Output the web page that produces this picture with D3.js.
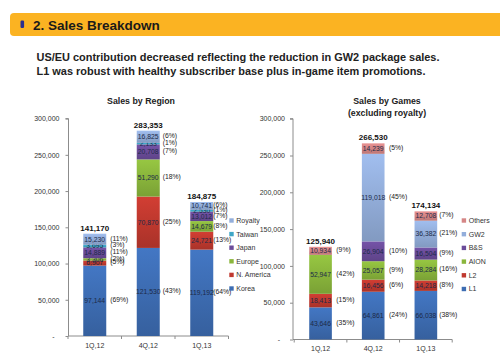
<!DOCTYPE html>
<html><head><meta charset="utf-8">
<script src="https://cdn.jsdelivr.net/npm/d3@7/dist/d3.min.js"></script>
<style>
html,body{margin:0;padding:0;background:#fff;}
svg{display:block;font-family:"Liberation Sans",Arial,sans-serif;}
</style></head>
<body>
<svg id="c" width="500" height="354"></svg>
<script>
// ---------- DATA ----------
const periods = ["1Q,12", "4Q,12", "1Q,13"];

const regionNames = ["Korea", "N. America", "Europe", "Japan", "Taiwan", "Royalty"];
const regionKorea    = [97144, 121530, 119192];
const regionNAmerica = [6907, 70870, 24721];
const regionEurope   = [3306, 51290, 14679];
const regionJapan    = [14889, 20708, 13012];
const regionTaiwan   = [3695, 2133, 2530];
const regionRoyalty  = [15230, 16825, 10741];
const regionPctKorea    = ["(69%)", "(43%)", "(64%)"];
const regionPctNAmerica = ["(5%)", "(25%)", "(13%)"];
const regionPctEurope   = ["(2%)", "(18%)", "(8%)"];
const regionPctJapan    = ["(11%)", "(7%)", "(7%)"];
const regionPctTaiwan   = ["(3%)", "(1%)", "(1%)"];
const regionPctRoyalty  = ["(11%)", "(6%)", "(6%)"];
const regionTotals = [141170, 283353, 184875];

const gameNames = ["L1", "L2", "AION", "B&S", "GW2", "Others"];
const gameL1     = [43646, 64861, 66038];
const gameL2     = [18413, 16456, 14218];
const gameAION   = [52947, 25057, 28284];
const gameBnS    = [0, 26904, 16504];
const gameGW2    = [0, 119018, 36382];
const gameOthers = [10934, 14239, 12708];
const gamePctL1     = ["(35%)", "(24%)", "(38%)"];
const gamePctL2     = ["(15%)", "(6%)", "(8%)"];
const gamePctAION   = ["(42%)", "(9%)", "(16%)"];
const gamePctBnS    = ["", "(10%)", "(9%)"];
const gamePctGW2    = ["", "(45%)", "(21%)"];
const gamePctOthers = ["(9%)", "(5%)", "(7%)"];
const gameTotals = [125940, 266530, 174134];

const yTicks = [0, 50000, 100000, 150000, 200000, 250000, 300000];

// ---------- STYLE ----------
const regionColors = ["#3d6db3", "#c0392f", "#8ab63c", "#6b4c9a", "#3ea6c6", "#93aedb"];
const gameColors   = ["#3d6db3", "#c0392f", "#8ab63c", "#6b4c9a", "#93aedb", "#d58686"];

const svg = d3.select("#c");
const defs = svg.append("defs");

function gradId(col){
  const id = "g" + col.slice(1);
  if (!document.getElementById(id)) {
    const g = defs.append("linearGradient").attr("id", id).attr("x1",0).attr("y1",0).attr("x2",0).attr("y2",1);
    const c = d3.color(col);
    g.append("stop").attr("offset","0%").attr("stop-color", c.brighter(0.25).formatHex());
    g.append("stop").attr("offset","100%").attr("stop-color", c.darker(0.35).formatHex());
  }
  return "url(#" + id + ")";
}

// ---------- HEADER ----------
svg.append("path")
  .attr("d", "M500,13 L14,13 Q10,13 10,17 L10,32 Q10,36 14,36 L500,36 Z")
  .attr("fill", "#fbb322");
svg.append("rect").attr("x",20.5).attr("y",20.5).attr("width",3.6).attr("height",7.5).attr("rx",1.2)
  .attr("fill","#2b2f8f");
svg.append("text").attr("x",33).attr("y",30.3).attr("font-size",13.5).attr("font-weight","bold")
  .attr("fill","#1a1a1a").text("2. Sales Breakdown");
svg.append("text").attr("x",36.5).attr("y",61.3).attr("font-size",10.95).attr("font-weight","bold")
  .attr("fill","#222").text("US/EU contribution decreased reflecting the reduction in GW2 package sales.");
svg.append("text").attr("x",36.5).attr("y",74.6).attr("font-size",10.95).attr("font-weight","bold")
  .attr("fill","#222").text("L1 was robust with healthy subscriber base plus in-game item promotions.");

// ---------- CHART FACTORY ----------
function drawChart(cfg){
  const g = svg.append("g");
  const x = d3.scaleBand().domain(periods).range(cfg.xRange).paddingInner(0.57).paddingOuter(0.285);
  const y = d3.scaleLinear().domain([0, 300000]).range([cfg.y0, cfg.y300]);

  // y axis
  const ya = g.append("g").attr("transform", `translate(${cfg.axisX},0)`)
    .call(d3.axisLeft(y).tickValues(yTicks).tickSize(3).tickPadding(cfg.tickPad)
      .tickFormat(d => d === 0 ? "-" : d3.format(",")(d)));
  ya.selectAll("path,line").attr("stroke", "#8c8c8c");
  ya.select(".domain").attr("d", `M-3,${cfg.y300}H0V${cfg.y0}H-0`);
  ya.selectAll("text").attr("font-size", 7).attr("fill", "#333").attr("font-family","Liberation Sans, Arial, sans-serif");
  ya.selectAll(".tick").filter(d => d === 0).select("text").attr("dx", -5);

  // x axis
  const xa = g.append("g").attr("transform", `translate(0,${cfg.y0})`)
    .call(d3.axisBottom(x).tickSize(0).tickPadding(7));
  xa.select(".domain").attr("d", `M${cfg.axisX},0H${cfg.xRange[1]}`).attr("stroke", "#8c8c8c");
  xa.selectAll("text").attr("font-size", 7).attr("fill", "#333").attr("font-family","Liberation Sans, Arial, sans-serif");
  const step = x.step();
  const bounds = d3.range(periods.length + 1).map(i => cfg.xRange[0] + i * step);
  xa.selectAll(".bt").data(bounds).enter().append("line").attr("class","bt")
    .attr("x1", d => d).attr("x2", d => d).attr("y1", 0).attr("y2", 3).attr("stroke", "#8c8c8c");

  // stacks
  const series = cfg.series;
  periods.forEach((p, i) => {
    let cum = 0;
    series.forEach((s, k) => {
      const v = s.values[i];
      const y1 = y(cum), y2 = y(cum + v);
      if (v > 0) {
        g.append("rect").attr("x", x(p)).attr("width", x.bandwidth())
          .attr("y", y2).attr("height", y1 - y2).attr("fill", gradId(s.color));
        g.append("text").attr("x", x(p) + x.bandwidth()/2).attr("y", (y1 + y2)/2).attr("dy", "0.35em")
          .attr("text-anchor", "middle").attr("font-size", 6.8).attr("fill", "#1c2a48")
          .text(d3.format(",")(v));
      }
      if (s.pct[i]) {
        g.append("text").attr("x", x(p) + x.bandwidth() + cfg.pctGap[i]).attr("y", (y1 + y2)/2 - 1).attr("dy", "0.35em")
          .attr("font-size", 6.8).attr("fill", "#222").text(s.pct[i]);
      }
      cum += v;
    });
    g.append("text").attr("x", x(p) + x.bandwidth()/2).attr("y", y(cfg.totals[i]) - 3)
      .attr("text-anchor", "middle").attr("font-size", 8).attr("font-weight", "bold").attr("fill", "#111")
      .text(d3.format(",")(cfg.totals[i]));
  });

  // titles
  cfg.title.forEach((t, j) => {
    g.append("text").attr("x", cfg.titleX).attr("y", 104 + j * 12).attr("text-anchor", "middle")
      .attr("font-size", 8.8).attr("font-weight", "bold").attr("fill", "#222").text(t);
  });

  // legend (top item = last series)
  const leg = series.slice().reverse();
  leg.forEach((s, j) => {
    const ly = cfg.legY + j * cfg.legStep;
    g.append("rect").attr("x", cfg.legX).attr("y", ly - 2.2).attr("width", 4.4).attr("height", 4.4).attr("fill", s.color);
    g.append("text").attr("x", cfg.legX + 7).attr("y", ly).attr("dy", "0.35em")
      .attr("font-size", 7).attr("fill", "#333").text(s.name);
  });
}

function mk(names, colors, vals, pcts){
  return names.map((n, k) => ({name: n, color: colors[k], values: vals[k], pct: pcts[k]}));
}

drawChart({
  xRange: [68, 228.5], axisX: 68.5, y0: 336, y300: 118.6, tickPad: 6,
  pctGap: [4, 3, 0],
  series: mk(regionNames, regionColors,
    [regionKorea, regionNAmerica, regionEurope, regionJapan, regionTaiwan, regionRoyalty],
    [regionPctKorea, regionPctNAmerica, regionPctEurope, regionPctJapan, regionPctTaiwan, regionPctRoyalty]),
  totals: regionTotals, title: ["Sales by Region"], titleX: 141,
  legX: 229.3, legY: 220.5, legStep: 13.6
});

drawChart({
  xRange: [294.2, 452.2], axisX: 293, y0: 339.5, y300: 118.7, tickPad: 5,
  pctGap: [4.5, 4.5, 2],
  series: mk(gameNames, gameColors,
    [gameL1, gameL2, gameAION, gameBnS, gameGW2, gameOthers],
    [gamePctL1, gamePctL2, gamePctAION, gamePctBnS, gamePctGW2, gamePctOthers]),
  totals: gameTotals, title: ["Sales by Games", "(excluding royalty)"], titleX: 387,
  legX: 461.7, legY: 220.5, legStep: 13.7
});
</script>
</body></html>
